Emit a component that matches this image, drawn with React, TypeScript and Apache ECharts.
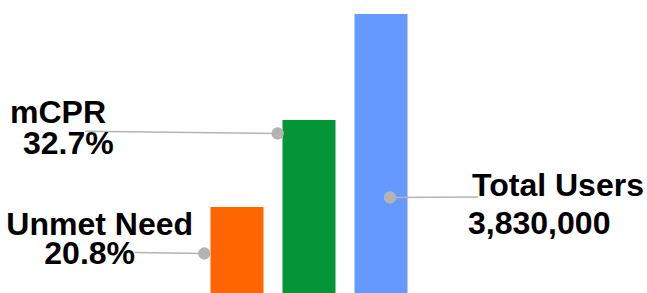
import React, { useEffect, useRef } from "react";
import * as echarts from "echarts";

const categories = ["Unmet Need", "mCPR", "Total Users"];
const barHeights = [86, 173, 279];
const anchorLevels = [39.5, 159.5, 95.5];
const labelTitles = ["Unmet Need", "mCPR", "Total Users"];
const labelValues = ["20.8%", "32.7%", "3,830,000"];
const barColors = ["#FF6600", "#039536", "#6699FF"];

const labelLayout = [
  { dot: -32.7, lineEnd: [-70, -1], title: [-198, -28.8], value: [-160, 0.5] },
  { dot: -31.3, lineEnd: [-192.7, -2.2], title: [-267.7, -21.2], value: [-254.7, 10.5] },
  { dot: 9, lineEnd: [88, -0.5], title: [82, -11.8], value: [78, 26.5] },
];

const FONT = 'bold 30.5px "Liberation Sans", Arial, sans-serif';

export default function App() {
  const ref = useRef<HTMLDivElement>(null);
  useEffect(() => {
    if (!ref.current) return;
    const chart = echarts.init(ref.current, null, { renderer: "svg" });
    const textEl = (text: string, x: number, y: number) => ({
      type: "text",
      x,
      y,
      scaleX: 1.05,
      style: {
        text,
        x: 0,
        y: 0,
        font: FONT,
        fill: "#000000",
        align: "left",
        textAlign: "left",
        verticalAlign: "middle",
        textVerticalAlign: "middle",
      },
    });
    chart.setOption({
      animation: false,
      grid: { left: 201, right: 230, top: 0, bottom: 0 },
      xAxis: {
        type: "category",
        data: categories,
        show: false,
      },
      yAxis: { type: "value", min: 0, max: 293, show: false },
      series: [
        {
          type: "bar",
          barWidth: 53,
          data: barHeights.map((v, i) => ({
            value: v,
            itemStyle: { color: barColors[i] },
          })),
        },
        {
          type: "custom",
          z: 5,
          data: anchorLevels.map((v, i) => [i, v]),
          renderItem: (params: any, api: any) => {
            const i = params.dataIndex;
            const c = api.coord([api.value(0), api.value(1)]);
            const L = labelLayout[i];
            const p = [c[0] + L.dot, c[1]];
            return {
              type: "group",
              children: [
                {
                  type: "line",
                  shape: {
                    x1: p[0],
                    y1: p[1],
                    x2: p[0] + L.lineEnd[0],
                    y2: p[1] + L.lineEnd[1],
                  },
                  style: { stroke: "#b4b4b4", lineWidth: 1.5 },
                },
                {
                  type: "circle",
                  shape: { cx: p[0], cy: p[1], r: 6.2 },
                  style: { fill: "#b3b3b3" },
                },
                textEl(labelTitles[i], p[0] + L.title[0], p[1] + L.title[1]),
                textEl(labelValues[i], p[0] + L.value[0], p[1] + L.value[1]),
              ],
            };
          },
        },
      ],
    });
    return () => chart.dispose();
  }, []);
  return (
    <div
      ref={ref}
      style={{ position: "fixed", left: 0, top: 0, width: 647, height: 293, background: "#fff" }}
    />
  );
}
